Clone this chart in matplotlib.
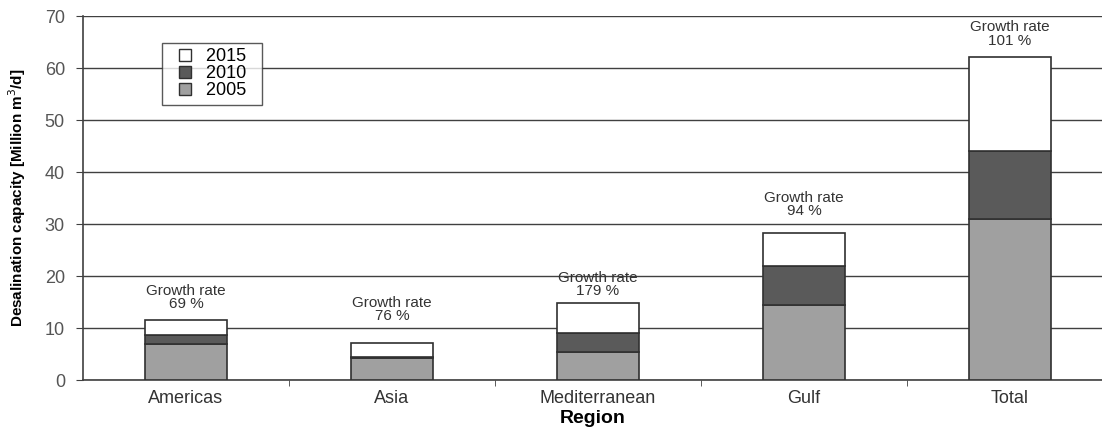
import matplotlib.pyplot as plt
from matplotlib.lines import Line2D
import numpy as np

# 地域別の淡水化容量 (積み上げ棒)
regions = ["Americas", "Asia", "Mediterranean", "Gulf", "Total"]
cap_2005 = [6.9, 4.2, 5.3, 14.5, 30.9]
cap_2010 = [8.65, 4.5, 9.0, 21.9, 44.0]
cap_2015 = [11.5, 7.2, 14.9, 28.2, 62.2]
growth = ["69 %", "76 %", "179 %", "94 %", "101 %"]
years = ["2015", "2010", "2005"]

plt.rcParams['font.family'] = ['Liberation Sans', 'DejaVu Sans']

fig = plt.figure(figsize=(11.02, 4.29), dpi=100)
ax = fig.add_axes([0.0753, 0.1142, 0.9247, 0.8485])

x = np.arange(len(regions))
w = 0.40
c05, c10, c15 = "#a0a0a0", "#5a5a5a", "#ffffff"
ec = "#303030"
d10 = np.array(cap_2010) - np.array(cap_2005)
d15 = np.array(cap_2015) - np.array(cap_2010)

ax.bar(x, cap_2005, w, color=c05, edgecolor=ec, linewidth=1.2, zorder=3)
ax.bar(x, d10, w, bottom=cap_2005, color=c10, edgecolor=ec, linewidth=1.2, zorder=3)
ax.bar(x, d15, w, bottom=cap_2010, color=c15, edgecolor=ec, linewidth=1.2, zorder=3)

# 成長率のラベル (棒の上の余白はまちまち)
gaps = [6.5, 14, 3, 11, 6.5]
for i in range(len(regions)):
    ax.annotate("Growth rate\n" + growth[i], (x[i], cap_2015[i]),
                xytext=(0, gaps[i]), textcoords="offset points",
                ha="center", va="bottom", fontsize=11, color="#333333",
                linespacing=0.95)

ax.set_ylim(0, 70)
ax.set_xlim(-0.5, 4.5 - 11 / 206)
ax.set_yticks(range(0, 71, 10))
ax.yaxis.grid(True, color="#404040", linewidth=1.0, zorder=0)
ax.set_axisbelow(True)

ax.set_xticks(x)
ax.set_xticklabels(regions)
ax.set_xticks(np.arange(0.5, 4.5, 1), minor=True)
ax.tick_params(axis="x", which="major", length=0, pad=7, labelsize=13, colors="#333333")
ax.tick_params(axis="x", which="minor", length=4, color="#404040", direction="out")
ax.tick_params(axis="y", length=5, color="#404040", labelsize=13, labelcolor="#555555", pad=8)

for s in ["top", "right"]:
    ax.spines[s].set_visible(False)
for s in ["left", "bottom"]:
    ax.spines[s].set_color("#404040")
    ax.spines[s].set_linewidth(1.2)

ax.set_xlabel("Region", fontsize=14, fontweight="bold", labelpad=2)
ax.set_ylabel("Desalination capacity [Million m$^3$/d]", fontsize=11, fontweight="bold",
              labelpad=12)

# 凡例は 2015 を上に
hcols = [c15, c10, c05]
handles = [Line2D([], [], marker="s", linestyle="", markersize=9,
                  markerfacecolor=c, markeredgecolor=ec, markeredgewidth=1.0) for c in hcols]
leg = ax.legend(handles, [y + "  " for y in years], loc="upper left",
                bbox_to_anchor=(0.0775, 0.926), fontsize=13, frameon=True,
                fancybox=False, edgecolor=ec, handlelength=2.0, handletextpad=0.15,
                labelspacing=0.0, borderpad=0.3, borderaxespad=0)
leg.get_frame().set_linewidth(1.0)

fig.savefig("out.png")
